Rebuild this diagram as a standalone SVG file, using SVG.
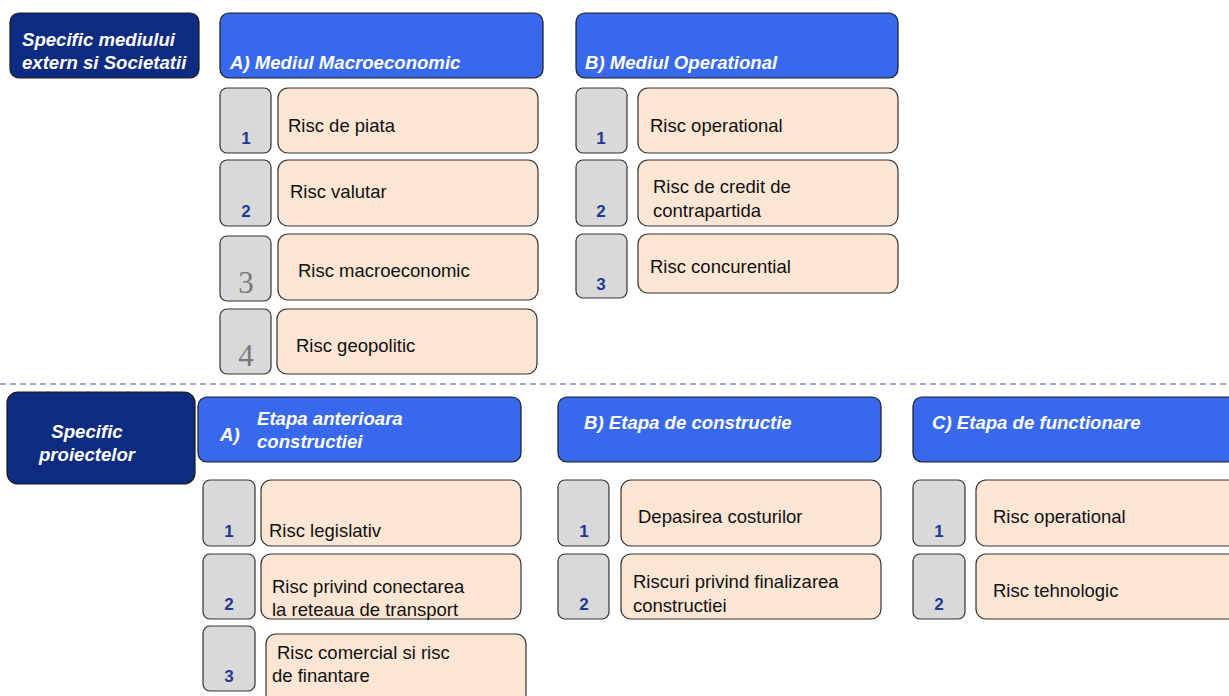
<svg xmlns="http://www.w3.org/2000/svg" width="1229" height="696" viewBox="0 0 1229 696">
<style>
.dark{fill:#0e2b82;stroke:#1a1a1a;stroke-width:1.2}
.blue{fill:#3869ec;stroke:#1a1a1a;stroke-width:1.2}
.num{fill:#d9d9d9;stroke:#333;stroke-width:1.2}
.item{fill:#fde6d4;stroke:#333;stroke-width:1.2}
.ht{font-family:"Liberation Sans",Arial,sans-serif;font-size:18.6px;font-weight:bold;font-style:italic;fill:#ffffff}
.t{font-family:"Liberation Sans",Arial,sans-serif;font-size:18.5px;fill:#111111}
.n{font-family:"Liberation Sans",Arial,sans-serif;font-size:17px;font-weight:bold;fill:#1f3a93;text-anchor:middle}
.ns{font-family:"Liberation Serif","Times New Roman",serif;font-size:31px;fill:#7a7a7a;text-anchor:middle}
</style>
<rect width="1229" height="696" fill="#ffffff"/>
<g id="connectors">
<line x1="0" y1="384" x2="1229" y2="384" stroke="#9bb0cf" stroke-width="2" stroke-dasharray="6,4"/>
</g>
<g id="sec-extern">
<rect class="dark" x="10" y="13" width="189" height="65" rx="9"/>
<text class="ht" x="22" y="46">Specific mediului</text>
<text class="ht" x="22" y="69">extern si Societatii</text>
</g>
<g id="hdr-macro">
<rect class="blue" x="220" y="13" width="323" height="65" rx="9"/>
<text class="ht" x="230" y="69">A) Mediul Macroeconomic</text>
</g>
<g id="hdr-oper">
<rect class="blue" x="576" y="13" width="322" height="65" rx="9"/>
<text class="ht" x="585" y="69">B) Mediul Operational</text>
</g>
<g id="a1">
<rect class="num" x="220" y="88" width="51" height="65" rx="7"/>
<text class="n" x="246" y="144">1</text>
<rect class="item" x="278" y="88" width="260" height="65" rx="10"/>
<text class="t" x="288" y="132">Risc de piata</text>
</g>
<g id="a2">
<rect class="num" x="220" y="160" width="51" height="66" rx="7"/>
<text class="n" x="246" y="217">2</text>
<rect class="item" x="278" y="160" width="260" height="66" rx="10"/>
<text class="t" x="290" y="198">Risc valutar</text>
</g>
<g id="a3">
<rect class="num" x="220" y="236" width="51" height="65" rx="7"/>
<text class="ns" x="246" y="293">3</text>
<rect class="item" x="278" y="234" width="260" height="66" rx="10"/>
<text class="t" x="298" y="277">Risc macroeconomic</text>
</g>
<g id="a4">
<rect class="num" x="220" y="309" width="51" height="65" rx="7"/>
<text class="ns" x="246" y="366">4</text>
<rect class="item" x="277" y="309" width="260" height="65" rx="10"/>
<text class="t" x="296" y="352">Risc geopolitic</text>
</g>
<g id="b1">
<rect class="num" x="576" y="88" width="51" height="65" rx="7"/>
<text class="n" x="601" y="144">1</text>
<rect class="item" x="638" y="88" width="260" height="65" rx="10"/>
<text class="t" x="650" y="132">Risc operational</text>
</g>
<g id="b2">
<rect class="num" x="576" y="160" width="51" height="66" rx="7"/>
<text class="n" x="601" y="217">2</text>
<rect class="item" x="638" y="160" width="260" height="66" rx="10"/>
<text class="t" x="653" y="193">Risc de credit de</text>
<text class="t" x="653" y="217">contrapartida</text>
</g>
<g id="b3">
<rect class="num" x="576" y="234" width="51" height="64" rx="7"/>
<text class="n" x="601" y="290">3</text>
<rect class="item" x="638" y="234" width="260" height="59" rx="10"/>
<text class="t" x="650" y="273">Risc concurential</text>
</g>
<g id="sec-proiecte">
<rect class="dark" x="7" y="392" width="188" height="92" rx="11"/>
<text class="ht" x="87" y="438" text-anchor="middle">Specific</text>
<text class="ht" x="87" y="461" text-anchor="middle">proiectelor</text>
</g>
<g id="hdr-anterioara">
<rect class="blue" x="198" y="397" width="323" height="65" rx="9"/>
<text class="ht" x="220" y="441">A)</text>
<text class="ht" x="257" y="425">Etapa anterioara</text>
<text class="ht" x="257" y="448">constructiei</text>
</g>
<g id="hdr-constructie">
<rect class="blue" x="558" y="397" width="323" height="65" rx="9"/>
<text class="ht" x="584" y="429">B) Etapa de constructie</text>
</g>
<g id="hdr-functionare">
<rect class="blue" x="913" y="397" width="330" height="65" rx="9"/>
<text class="ht" x="932" y="429">C) Etapa de functionare</text>
</g>
<g id="pa1">
<rect class="num" x="203" y="480" width="52" height="66" rx="7"/>
<text class="n" x="229" y="537">1</text>
<rect class="item" x="261" y="480" width="260" height="66" rx="10"/>
<text class="t" x="269" y="537">Risc legislativ</text>
</g>
<g id="pa2">
<rect class="num" x="203" y="554" width="52" height="65" rx="7"/>
<text class="n" x="229" y="610">2</text>
<rect class="item" x="261" y="554" width="260" height="65" rx="10"/>
<text class="t" x="272" y="593">Risc privind conectarea</text>
<text class="t" x="272" y="616">la reteaua de transport</text>
</g>
<g id="pa3">
<rect class="num" x="203" y="626" width="52" height="65" rx="7"/>
<text class="n" x="229" y="682">3</text>
<rect class="item" x="266" y="634" width="260" height="70" rx="10"/>
<text class="t" x="277" y="659">Risc comercial si risc</text>
<text class="t" x="272" y="682">de finantare</text>
</g>
<g id="pb1">
<rect class="num" x="558" y="480" width="51" height="66" rx="7"/>
<text class="n" x="584" y="537">1</text>
<rect class="item" x="621" y="480" width="260" height="66" rx="10"/>
<text class="t" x="638" y="523">Depasirea costurilor</text>
</g>
<g id="pb2">
<rect class="num" x="558" y="554" width="51" height="65" rx="7"/>
<text class="n" x="584" y="610">2</text>
<rect class="item" x="621" y="554" width="260" height="65" rx="10"/>
<text class="t" x="633" y="588">Riscuri privind finalizarea</text>
<text class="t" x="633" y="612">constructiei</text>
</g>
<g id="pc1">
<rect class="num" x="913" y="480" width="52" height="66" rx="7"/>
<text class="n" x="939" y="537">1</text>
<rect class="item" x="976" y="480" width="270" height="66" rx="10"/>
<text class="t" x="993" y="523">Risc operational</text>
</g>
<g id="pc2">
<rect class="num" x="913" y="554" width="52" height="65" rx="7"/>
<text class="n" x="939" y="610">2</text>
<rect class="item" x="976" y="554" width="270" height="65" rx="10"/>
<text class="t" x="993" y="597">Risc tehnologic</text>
</g>
</svg>
